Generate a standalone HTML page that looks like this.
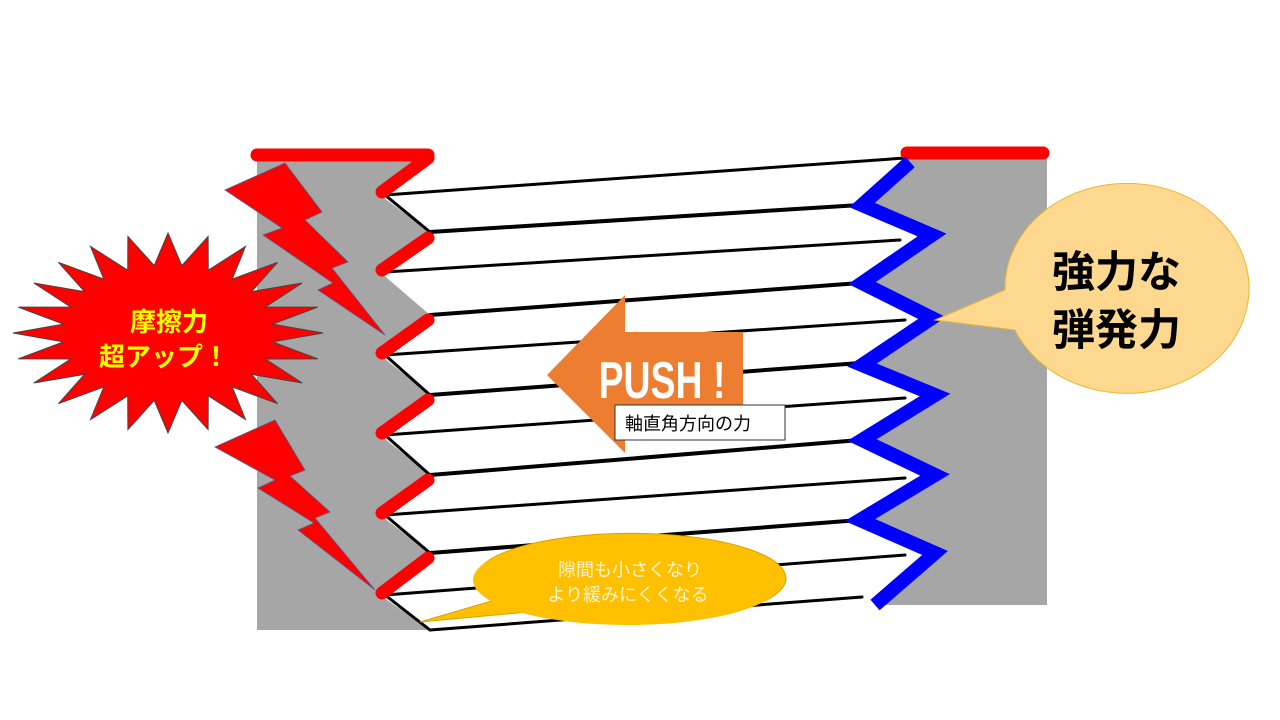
<!DOCTYPE html>
<html><head><meta charset="utf-8"><style>
html,body{margin:0;padding:0;background:#fff;}
svg{display:block;}
text{font-family:"Liberation Sans","Noto Sans CJK JP",sans-serif;}
</style></head><body>
<svg id="s" width="1280" height="720" viewBox="0 0 1280 720" xmlns="http://www.w3.org/2000/svg">
<rect width="1280" height="720" fill="#fff"/>
<polygon fill="#a6a6a6" points="257,155 430,155 380,195 430,232 380,272 430,315 380,355 430,395 380,435 430,475 380,515 430,553 380,595 430,630 257,630"/>
<polygon fill="#a6a6a6" points="905,155 1047,155 1047,605 875,605 935,553 858,520 935,475 862,440 935,395 860,365 932,318 860,283 932,235 860,205 908,160"/>
<g stroke="#000" fill="none" stroke-linecap="round">
<line x1="385" y1="195" x2="905" y2="158" stroke-width="3"/>
<line x1="430" y1="232" x2="860" y2="205" stroke-width="4"/>
<line x1="385" y1="272" x2="900" y2="240" stroke-width="3"/>
<line x1="430" y1="315" x2="860" y2="283" stroke-width="4"/>
<line x1="385" y1="355" x2="905" y2="320" stroke-width="3"/>
<line x1="430" y1="395" x2="860" y2="363" stroke-width="4"/>
<line x1="385" y1="435" x2="905" y2="398" stroke-width="3"/>
<line x1="430" y1="475" x2="860" y2="440" stroke-width="4"/>
<line x1="385" y1="515" x2="905" y2="478" stroke-width="3"/>
<line x1="430" y1="553" x2="860" y2="520" stroke-width="4"/>
<line x1="385" y1="595" x2="905" y2="555" stroke-width="3"/>
<line x1="430" y1="630" x2="862" y2="597" stroke-width="3"/>
<polyline stroke-width="3" points="385,195 430,232"/>
<polyline stroke-width="3" points="385,355 430,395"/>
<polyline stroke-width="3" points="385,435 430,475"/>
<polyline stroke-width="3" points="385,515 430,553"/>
<polyline stroke-width="3" points="385,595 430,630"/>
</g>
<g stroke="#ff0000" stroke-width="13" stroke-linecap="round" fill="none">
<line x1="257" y1="155" x2="428" y2="155"/>
<line x1="428" y1="158" x2="382" y2="192"/>
<line x1="428" y1="238" x2="382" y2="270"/>
<line x1="428" y1="320" x2="382" y2="353"/>
<line x1="428" y1="400" x2="382" y2="433"/>
<line x1="428" y1="480" x2="382" y2="513"/>
<line x1="428" y1="558" x2="382" y2="593"/>
<line x1="907" y1="153" x2="1043" y2="153"/>
</g>
<polyline fill="none" stroke="#0000ff" stroke-width="14" points="910,162 862,205 932,235 862,283 932,318 862,365 935,395 862,440 935,475 860,520 935,553 875,605"/>
<g fill="#ff0000" stroke="#5a5a8a" stroke-width="0.8">
<polygon points="225,190 285,163 322,212 305,220 348,262 332,268 385,335 318,290 333,283 263,235 282,228"/>
<polygon points="215,447 275,420 305,470 290,476 330,512 315,518 375,590 298,530 314,523 258,488 275,480"/>
</g>
<polygon id="star" fill="#ff0000" stroke="#444" stroke-width="1"/>
<text x="169" y="331" text-anchor="middle" font-size="26" font-weight="bold" fill="#ffff00">摩擦力</text>
<text x="164" y="366" text-anchor="middle" font-size="26" font-weight="bold" fill="#ffff00">超アップ！</text>
<polygon fill="#ed7d31" points="547,375 625,295 625,332 743,332 743,415 625,415 625,453"/>
<text x="662" y="398" text-anchor="middle" font-size="52" font-weight="bold" fill="#fff" transform="translate(662,0) scale(0.72,1) translate(-662,0)">PUSH !</text>
<rect x="615" y="405" width="170" height="35" fill="#fff" stroke="#333" stroke-width="1"/>
<text x="625" y="430" font-size="18" fill="#000">軸直角方向の力</text>
<path d="M1015,330 L935,320 L1005,290 A122,105 0 1 1 1015,330 Z" fill="#ffd88f" stroke="#e8b830" stroke-width="1"/>
<text x="1052" y="287" font-size="43" font-weight="bold" fill="#000">強力な</text>
<text x="1052" y="345" font-size="43" font-weight="bold" fill="#000">弾発力</text>
<path d="M495,600 L420,622 L528,612 A155,45 0 1 0 495,600 Z" fill="#ffc000" stroke="#d9a000" stroke-width="1"/>
<ellipse cx="628" cy="580" rx="155" ry="45" fill="#ffc000"/>
<text x="630" y="576" text-anchor="middle" font-size="18" fill="#fff4d0">隙間も小さくなり</text>
<text x="628" y="601" text-anchor="middle" font-size="18" fill="#fff4d0">より緩みにくくなる</text>
</svg>
<script>
var p=[],n=24,cx=168,cy=333;
for(var i=0;i<2*n;i++){var a=Math.PI*i/n-Math.PI/2;var r=i%2?0.68:1;p.push((cx+155*r*Math.cos(a)).toFixed(1)+","+(cy+100*r*Math.sin(a)).toFixed(1));}
document.getElementById("star").setAttribute("points",p.join(" "));
</script>
</body></html>
